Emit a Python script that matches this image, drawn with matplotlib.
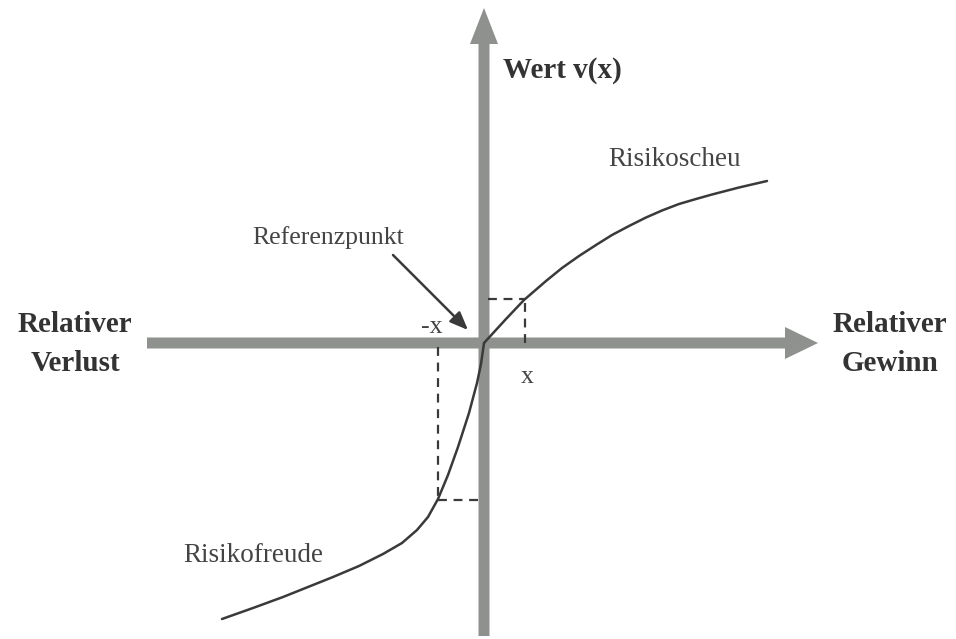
import matplotlib.pyplot as plt
import numpy as np

# value function v(x), read relative to the reference point (origin)
gain_x = [0, 22, 40, 62, 78, 95, 112, 128, 145, 162, 178, 195, 212, 228, 255, 283]
gain_v = [0, 24, 43, 62, 75, 87, 98, 108, 117, 125.5, 132.5, 139, 144, 148.5,
          155.5, 162]
loss_x = [0, -3, -7, -15, -26, -36, -46, -56, -67, -82, -101, -125, -151,
          -176, -201, -231, -262]
loss_v = [0, -21, -40, -70, -104, -132, -156, -174, -187, -200, -211, -223,
          -234, -244, -254, -265, -276]

# example pair +x / -x marked with dashed guides
x_pos, v_pos = 41, 44
x_neg, v_neg = -46, -157

axis_grey = '#8e918e'
ink = '#3a3a3a'
serif = 'Liberation Serif'

fig = plt.figure(figsize=(9.56, 6.39), dpi=100)
ax = fig.add_axes([0, 0, 1, 1])
ax.set_xlim(-484, 472)
ax.set_ylim(-296, 343)
ax.axis('off')

# thick grey axes with arrow heads
ax.arrow(-337, 0, 671, 0, width=11, head_width=32, head_length=33,
         length_includes_head=True, color=axis_grey, lw=0, zorder=1)
ax.arrow(0, -293, 0, 628, width=11, head_width=28, head_length=36,
         length_includes_head=True, color=axis_grey, lw=0, zorder=1)

# curve
line_kw = dict(color=ink, lw=1.8, zorder=3, solid_joinstyle='round',
               solid_capstyle='round')
ax.plot(gain_x, gain_v, **line_kw)
ax.plot(loss_x, loss_v, **line_kw)

# dashed guides
dash = dict(color=ink, lw=1.6, ls=(0, (4, 3)), zorder=2)
ax.plot([x_pos, x_pos], [0, v_pos], **dash)
ax.plot([4, x_pos], [v_pos, v_pos], **dash)
ax.plot([x_neg, x_neg], [-4, v_neg], **dash)
ax.plot([x_neg, -6], [v_neg, v_neg], **dash)

# labels
bold = dict(family=serif, fontsize=21, fontweight='bold', color='#333333',
            ha='center', va='center', linespacing=1.55)
ax.text(-409, -1, 'Relativer\nVerlust', **bold)
ax.text(406, -1, 'Relativer\nGewinn', **bold)
ax.text(19, 273, 'Wert v(x)', family=serif, fontsize=21, fontweight='bold',
        color='#333333', ha='left', va='center')

reg = dict(family=serif, fontsize=18.5, color='#444444', va='center')
ax.text(124, 183, 'Risikoscheu', ha='left', fontsize=19.5,
        **{k: v for k, v in reg.items() if k != 'fontsize'})
ax.text(-301, -212, 'Risikofreude', ha='left', fontsize=19.5,
        **{k: v for k, v in reg.items() if k != 'fontsize'})
ax.text(-52, 16, '-x', ha='center', **reg)
ax.text(43, -34, 'x', ha='center', **reg)
ax.text(-156, 105, 'Referenzpunkt', ha='center', **reg)

ax.annotate('', xy=(-16, 13), xytext=(-91, 88),
            arrowprops=dict(arrowstyle='-|>,head_length=1.1,head_width=0.45',
                            color=ink, lw=1.8, shrinkA=0, shrinkB=0))

fig.savefig('out.png', dpi=100, facecolor='white')
